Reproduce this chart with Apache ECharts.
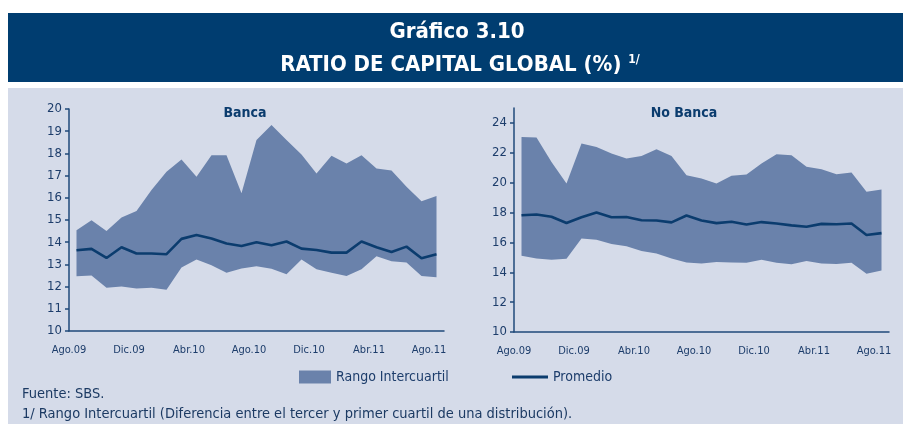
<!DOCTYPE html>
<html>
<head>
<meta charset="utf-8">
<script src="https://cdn.jsdelivr.net/npm/echarts@6/dist/echarts.min.js"></script>
<style>
  html, body { margin: 0; padding: 0; background: #ffffff; }
  #chart { width: 903px; height: 424px; }
</style>
</head>
<body>
<div id="chart"></div>
<script>
var months = ['Ago.09', 'Sep.09', 'Oct.09', 'Nov.09', 'Dic.09', 'Ene.10', 'Feb.10', 'Mar.10', 'Abr.10',
    'May.10', 'Jun.10', 'Jul.10', 'Ago.10', 'Sep.10', 'Oct.10', 'Nov.10', 'Dic.10', 'Ene.11', 'Feb.11',
    'Mar.11', 'Abr.11', 'May.11', 'Jun.11', 'Jul.11', 'Ago.11'];

// Banca
var bancaUpper = [14.54, 14.99, 14.50, 15.11, 15.40, 16.35, 17.17, 17.73, 16.95, 17.92, 17.92, 16.20, 18.60,
    19.28, 18.60, 17.95, 17.10, 17.89, 17.55, 17.92, 17.32, 17.23, 16.50, 15.85, 16.08];
var bancaLower = [12.47, 12.50, 11.95, 12.00, 11.92, 11.95, 11.86, 12.86, 13.22, 12.96, 12.62, 12.81, 12.92,
    12.80, 12.56, 13.22, 12.78, 12.62, 12.48, 12.78, 13.37, 13.14, 13.08, 12.48, 12.42];
var bancaMean = [13.64, 13.70, 13.29, 13.77, 13.49, 13.49, 13.46, 14.15, 14.32, 14.17, 13.94, 13.83, 14.00,
    13.86, 14.03, 13.71, 13.65, 13.53, 13.53, 14.03, 13.77, 13.56, 13.80, 13.28, 13.46];

// No Banca
var noBancaUpper = [23.06, 23.02, 21.39, 19.94, 22.62, 22.39, 21.95, 21.61, 21.79, 22.24, 21.79, 20.50, 20.28,
    19.94, 20.46, 20.54, 21.28, 21.90, 21.84, 21.06, 20.90, 20.57, 20.68, 19.39, 19.54];
var noBancaLower = [15.11, 14.93, 14.84, 14.90, 16.26, 16.18, 15.89, 15.75, 15.42, 15.26, 14.93, 14.66, 14.59,
    14.68, 14.66, 14.64, 14.84, 14.64, 14.53, 14.75, 14.59, 14.55, 14.64, 13.90, 14.12];
var noBancaMean = [17.82, 17.87, 17.72, 17.30, 17.68, 18.00, 17.68, 17.70, 17.48, 17.47, 17.34, 17.80, 17.47,
    17.29, 17.38, 17.20, 17.36, 17.27, 17.14, 17.05, 17.24, 17.22, 17.27, 16.49, 16.62];

var bancaTicks = [10, 11, 12, 13, 14, 15, 16, 17, 18, 19, 20];
var noBancaTicks = [10, 12, 14, 16, 18, 20, 22, 24];

var navy = '#0b3c6e';
var bandColor = '#6a82ab';
var axisColor = '#1f4a7a';
var textColor = '#1d3d6b';
var font = "'Liberation Sans Narrow', 'DejaVu Sans Condensed', 'Noto Sans', sans-serif";

function diff(upper, lower) {
    var out = [];
    for (var i = 0; i < upper.length; i++) {
        out.push(+(upper[i] - lower[i]).toFixed(2));
    }
    return out;
}

function xAxisFor(gridIndex) {
    return {
        type: 'category',
        gridIndex: gridIndex,
        data: months,
        boundaryGap: true,
        axisLine: { lineStyle: { color: axisColor, width: 1.5 } },
        axisTick: { interval: 3, length: 4, lineStyle: { color: axisColor, width: 1.5 } },
        axisLabel: {
            interval: 3, color: textColor, fontFamily: font, fontSize: 11,
            margin: 14, padding: [0, 15, 0, 0]
        },
        splitLine: { show: false }
    };
}

function yAxisFor(gridIndex, min, max, interval, ticks) {
    return {
        type: 'value',
        gridIndex: gridIndex,
        min: min,
        max: max,
        interval: interval,
        axisLine: { show: true, lineStyle: { color: axisColor, width: 1.5 } },
        axisTick: { show: true, length: 4, customValues: ticks, lineStyle: { color: axisColor, width: 1.5 } },
        axisLabel: { color: textColor, fontFamily: font, fontSize: 13, margin: 7, customValues: ticks },
        splitLine: { show: false }
    };
}

function bandSeries(idx, upper, lower, mean) {
    return [{
        type: 'line',
        name: 'base' + idx,
        xAxisIndex: idx,
        yAxisIndex: idx,
        stack: 'band' + idx,
        data: lower,
        symbol: 'none',
        lineStyle: { opacity: 0 },
        silent: true
    }, {
        type: 'line',
        name: 'Rango Intercuartil',
        xAxisIndex: idx,
        yAxisIndex: idx,
        stack: 'band' + idx,
        data: diff(upper, lower),
        symbol: 'none',
        itemStyle: { color: bandColor },
        lineStyle: { width: 0, color: bandColor },
        areaStyle: { color: bandColor, opacity: 1 }
    }, {
        type: 'line',
        name: 'Promedio',
        xAxisIndex: idx,
        yAxisIndex: idx,
        data: mean,
        symbol: 'none',
        itemStyle: { color: navy },
        lineStyle: { width: 2.6, color: navy },
        z: 5
    }];
}

var chart = echarts.init(document.getElementById('chart'));
var option = {
    animation: false,
    backgroundColor: '#ffffff',
    graphic: [
        { type: 'rect', shape: { x: 8, y: 13, width: 895, height: 69 }, style: { fill: '#003d70' }, z: -10 },
        { type: 'rect', shape: { x: 8, y: 88, width: 895, height: 336 }, style: { fill: '#d5dbe9' }, z: -10 },
        {
            type: 'text', left: 22, top: 387,
            style: { text: 'Fuente: SBS.', fill: '#1c3a63', font: '14.5px ' + font }
        },
        {
            type: 'text', left: 22, top: 407,
            style: {
                text: '1/ Rango Intercuartil (Diferencia entre el tercer y primer cuartil de una distribución).',
                fill: '#1c3a63', font: '14.5px ' + font
            }
        }
    ],
    title: [{
        text: 'Gráfico 3.10',
        left: 452, top: 16, textAlign: 'center',
        textStyle: { color: '#ffffff', fontFamily: font, fontSize: 22, fontWeight: 'bold' }
    }, {
        text: 'RATIO DE CAPITAL GLOBAL (%) {sup|1/}',
        left: 455, top: 49, textAlign: 'center',
        textStyle: {
            color: '#ffffff', fontFamily: font, fontSize: 22, fontWeight: 'bold',
            rich: { sup: { color: '#ffffff', fontFamily: font, fontSize: 12, fontWeight: 'bold', verticalAlign: 'top', padding: [0, 0, 10, 0] } }
        }
    }, {
        text: 'Banca',
        left: 240, top: 101, textAlign: 'center',
        textStyle: { color: navy, fontFamily: font, fontSize: 14, fontWeight: 'bold' }
    }, {
        text: 'No Banca',
        left: 679, top: 101, textAlign: 'center',
        textStyle: { color: navy, fontFamily: font, fontSize: 14, fontWeight: 'bold' }
    }],
    legend: [{
        data: ['Rango Intercuartil'],
        left: 299, top: 370, padding: 0,
        icon: 'rect', itemWidth: 32, itemHeight: 13,
        textStyle: { color: textColor, fontFamily: font, fontSize: 14 }
    }, {
        data: ['Promedio'],
        left: 512, top: 370, padding: 0,
        icon: 'rect', itemWidth: 36, itemHeight: 3,
        textStyle: { color: textColor, fontFamily: font, fontSize: 14 }
    }],
    grid: [
        { left: 69, top: 109, width: 375, height: 222 },
        { left: 514, top: 108, width: 375, height: 224 }
    ],
    xAxis: [xAxisFor(0), xAxisFor(1)],
    yAxis: [yAxisFor(0, 10, 20, 1, bancaTicks), yAxisFor(1, 10, 25, 2, noBancaTicks)],
    series: bandSeries(0, bancaUpper, bancaLower, bancaMean)
        .concat(bandSeries(1, noBancaUpper, noBancaLower, noBancaMean))
};
chart.setOption(option);
</script>
</body>
</html>
